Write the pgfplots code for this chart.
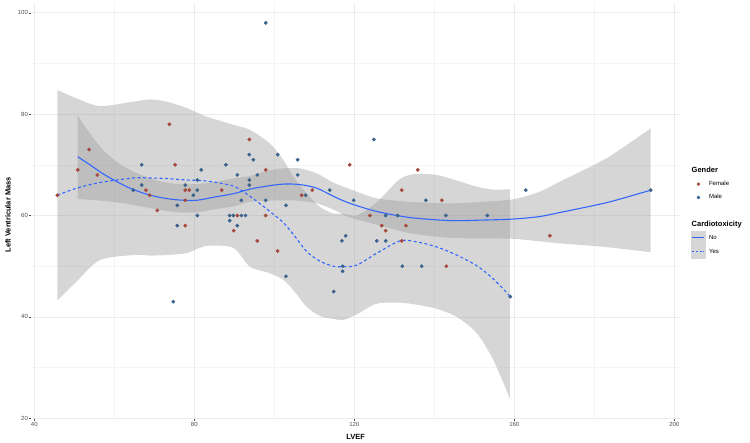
\documentclass[border=0pt]{standalone}
\usepackage{pgfplots}
\pgfplotsset{compat=1.18}
\usepgfplotslibrary{fillbetween}
\usepackage{pgfplotstable}
\usepackage{fontspec}
\setmainfont{Liberation Sans}
\definecolor{fem}{HTML}{A6483E}
\definecolor{mal}{HTML}{3A628C}
\definecolor{smoothc}{HTML}{3366FF}
\definecolor{bandc}{gray}{0.6}
\definecolor{gridmaj}{HTML}{EBEBEB}
\definecolor{gridmin}{HTML}{F4F4F4}
\definecolor{ticklab}{HTML}{4D4D4D}

\pgfplotstableread{
x y
45.75 64
50.85 69
53.7 73
55.75 68
73.75 78
75.2 70
67.9 65
68.85 64
70.75 61
77.75 58
77.75 65
78.75 65
77.75 63
86.85 65
89.85 57
90.75 60
93.75 75
97.85 69
97.85 60
95.75 55
100.85 53
106.85 64
109.5 65
118.85 70
123.9 60
126.85 58
127.85 57
135.85 69
131.85 65
141.9 63
132.9 58
131.85 55
143.0 50
168.9 56
}\female

\pgfplotstableread{
x y
66.85 70
66.85 66
64.75 65
75.75 62
75.75 58
77.75 66
79.75 64
80.75 65
80.75 67
81.75 69
80.75 60
74.75 43
87.9 70
88.85 60
88.85 59
89.75 60
91.8 60
92.8 60
90.75 68
91.75 63
90.75 58
93.75 72
94.75 71
93.75 67
93.75 66
95.75 68
97.85 63
97.85 98
100.85 72
105.85 71
105.85 68
102.9 62
102.9 48
107.85 64
113.85 65
119.85 63
124.9 75
114.85 45
116.9 55
117.85 56
117.1 50
117.1 49
125.6 55
127.85 60
127.85 55
130.85 60
137.9 63
142.9 60
153.25 60
132.0 50
136.85 50
159.0 44
162.85 65
194.1 65
}\male

\pgfplotstableread{
x y lo hi
50.85 71.6 63.25 79.7
53.9 70.0 63.1 76.2
57.25 68.2 62.9 72.9
60.6 66.7 62.6 70.6
63.9 65.4 62.2 69.0
68.1 64.2 61.6 67.6
72.25 63.45 61.0 66.6
76.4 63.05 60.6 66.2
80.6 63.0 60.6 66.2
84.75 63.6 61.2 66.6
89.75 64.3 61.8 67.3
93.9 65.2 62.7 67.8
98.1 65.8 62.9 68.8
102.25 66.2 63.0 69.3
106.4 66.1 62.9 69.3
110.6 65.4 62.4 68.3
114.75 63.8 61.2 66.5
118.9 62.4 59.6 65.2
125.6 60.8 58.2 63.4
133.9 59.6 56.5 62.7
143.9 59.0 55.6 62.4
152.25 59.1 55.5 62.7
159.75 59.3 55.4 63.2
166.4 59.8 54.9 64.7
171.4 60.6 54.5 66.7
176.4 61.4 54.2 68.6
183.9 62.7 53.7 71.7
194.1 65.0 52.75 77.2
}\nob

\pgfplotstableread{
x y lo hi
45.75 64.0 43.2 84.75
50.6 65.4 47.0 83.1
56.4 66.5 51.2 81.6
64.75 67.4 52.2 82.45
68.9 67.4 52.1 82.9
73.1 67.3 52.2 82.45
78.1 67.0 52.6 81.2
83.1 66.8 54.0 79.5
89.75 65.8 53.6 77.9
93.9 63.8 49.9 76.9
98.9 60.8 48.6 74.2
102.25 58.6 47.3 70.95
104.75 56.3 45.3 67.65
108.1 52.9 42.0 64.4
111.4 51.0 40.2 61.7
114.75 50.0 39.6 60.4
117.25 49.9 39.4 60.4
120.6 50.2 40.5 60.0
125.6 52.55 42.6 62.6
131.4 55.0 42.8 67.2
135.6 54.8 42.4 68.2
140.6 53.8 41.6 68.0
145.6 52.2 40.0 66.9
150.6 50.1 36.8 65.7
154.75 47.5 31.5 65.1
158.9 44.1 23.9 65.2
}\yesb

\begin{document}
\begin{tikzpicture}
\begin{axis}[
  at={(0pt,0pt)}, anchor=south west,
  scale only axis, width=649.2pt, height=416.2pt,
  xmin=39.2, xmax=201.5, ymin=19.9, ymax=102,
  axis line style={draw=none},
  xtick={40,80,120,160,200}, ytick={20,40,60,80,100},
  minor xtick={60,100,140,180}, minor ytick={30,50,70,90},
  grid=both,
  major grid style={gridmaj, line width=0.6pt},
  minor grid style={gridmin, line width=0.4pt},
  tick align=outside, major tick length=2pt, minor tick length=0pt,
  tick style={ticklab, line width=0.4pt},
  xtick pos=bottom, ytick pos=left,
  tick label style={font=\fontsize{6}{7}\selectfont, text=ticklab, inner sep=1pt},
  /pgf/number format/assume math mode=true,
  xlabel={\textbf{LVEF}},
  ylabel={\textbf{Left Ventricular Mass}},
  label style={font=\fontsize{7.5}{9}\selectfont},
  xlabel style={at={(axis description cs:0.5,-0.0437)}, anchor=center},
  ylabel style={at={(axis description cs:-0.0356,0.49)}, anchor=center},
  legend style={draw=none, fill=none, inner sep=0pt, outer sep=0pt,
    row sep=0pt, column sep=4pt, nodes={inner sep=0pt},
    font=\fontsize{6}{7}\selectfont,
    at={(axis description cs:1.0169,0.6122)}, anchor=north west},
  legend cell align=left,
]
% points
\addplot[only marks, mark=*, mark size=1.7pt, color=fem, forget plot] table[x=x,y=y]{\female};
\addplot[only marks, mark=*, mark size=1.7pt, color=mal, forget plot] table[x=x,y=y]{\male};
% bands
\addplot[name path=nohi, draw=none, smooth, forget plot] table[x=x,y=hi]{\nob};
\addplot[name path=nolo, draw=none, smooth, forget plot] table[x=x,y=lo]{\nob};
\addplot[fill=bandc, fill opacity=0.4, draw=none, forget plot] fill between[of=nohi and nolo];
\addplot[name path=yeshi, draw=none, smooth, forget plot] table[x=x,y=hi]{\yesb};
\addplot[name path=yeslo, draw=none, smooth, forget plot] table[x=x,y=lo]{\yesb};
\addplot[fill=bandc, fill opacity=0.4, draw=none, forget plot] fill between[of=yeshi and yeslo];
% lines
\addplot[smoothc, line width=1.1pt, smooth, forget plot] table[x=x,y=y]{\nob};
\addplot[smoothc, line width=1.1pt, smooth, dash pattern=on 3pt off 2.5pt, forget plot] table[x=x,y=y]{\yesb};
% legend
\addlegendimage{legend image code/.code={\path[draw=none,fill=none] (0pt,-6.7pt) rectangle (13.4pt,6.7pt);}}
\addlegendentry{\hspace*{-17.4pt}\fontsize{7.5}{9}\selectfont\textbf{Gender}}
\addlegendimage{legend image code/.code={\path[draw=none,fill=none] (0pt,-6.7pt) rectangle (13.4pt,6.7pt); \fill[fem] (7pt,0pt) circle (1.5pt);}}
\addlegendentry{Female}
\addlegendimage{legend image code/.code={\path[draw=none,fill=none] (0pt,-6.7pt) rectangle (13.4pt,6.7pt); \fill[mal] (7pt,0pt) circle (1.5pt);}}
\addlegendentry{Male}
\addlegendimage{legend image code/.code={\path[draw=none,fill=none] (0pt,-6.7pt) rectangle (13.4pt,6.7pt);}}
\addlegendentry{\strut}
\addlegendimage{legend image code/.code={\path[draw=none,fill=none] (0pt,-6.7pt) rectangle (13.4pt,6.7pt);}}
\addlegendentry{\hspace*{-17.4pt}\fontsize{7.5}{9}\selectfont\textbf{Cardiotoxicity}}
\addlegendimage{legend image code/.code={\fill[bandc!40] (0pt,-6.7pt) rectangle (13.4pt,6.7pt); \draw[smoothc, line width=1.1pt] (1pt,0pt) -- (12.4pt,0pt);}}
\addlegendentry{No}
\addlegendimage{legend image code/.code={\fill[bandc!40] (0pt,-6.7pt) rectangle (13.4pt,6.7pt); \draw[smoothc, line width=1.1pt, dash pattern=on 2pt off 1.6pt] (1pt,0pt) -- (12.4pt,0pt);}}
\addlegendentry{Yes}
\end{axis}
\pgfresetboundingbox
\useasboundingbox (-31.1pt,-24.2pt) rectangle (718.9pt,418.8pt);
\end{tikzpicture}
\end{document}
